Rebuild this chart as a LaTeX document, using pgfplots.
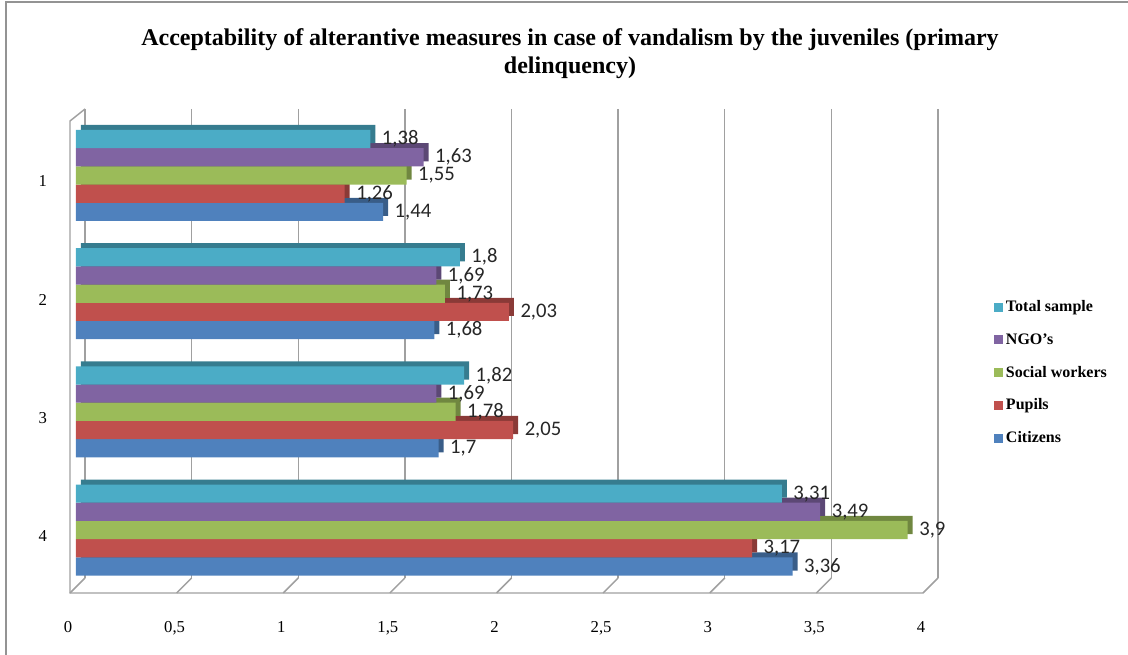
\documentclass[border=0pt]{standalone}
\usepackage{pgfplots}
\usepackage{pgfplotstable}
\pgfplotsset{compat=1.18}
\usepackage{fontspec}
\setmainfont{Liberation Serif}
\newfontfamily\datafont{Carlito}

\definecolor{cCit}{HTML}{4F81BD}
\definecolor{cPup}{HTML}{C0504D}
\definecolor{cSoc}{HTML}{9BBB59}
\definecolor{cNgo}{HTML}{8064A2}
\definecolor{cTot}{HTML}{4BACC6}
\definecolor{gridgray}{HTML}{A0A0A0}

% data: x = score, y = item
\pgfplotstableread{
x y
1.44 1
1.68 2
1.7 3
3.36 4
}\tabCit
\pgfplotstableread{
x y
1.26 1
2.03 2
2.05 3
3.17 4
}\tabPup
\pgfplotstableread{
x y
1.55 1
1.73 2
1.78 3
3.9 4
}\tabSoc
\pgfplotstableread{
x y
1.63 1
1.69 2
1.69 3
3.49 4
}\tabNgo
\pgfplotstableread{
x y
1.38 1
1.8 2
1.82 3
3.31 4
}\tabTot

% depth face of a bar: same bar, moved up and to the right, darker
\pgfplotsset{
  depth/.style={forget plot, draw=none, fill=#1!72!black, xshift=3.75pt},
  front/.style={fill=#1, draw=none},
  valuelabel/.style={forget plot, draw=none, fill=none, nodes near coords},
}

\begin{document}
\begin{tikzpicture}[x=0.75pt,y=0.75pt]
\useasboundingbox (0,0) rectangle (1128,655);
% chart frame
\draw[draw=gray!85, line width=1.5pt] (6,-10) -- (6,653) -- (1140,653);

% title
\node[align=center, font=\bfseries\fontsize{18}{21}\selectfont] at (570,601)
  {Acceptability of alterantive measures in case of vandalism by the juveniles (primary\\delinquency)};

\begin{axis}[
  at={(57pt,57.75pt)}, anchor=south west,
  scale only axis, width=639.75pt, height=351.75pt,
  xmin=0, xmax=4, ymin=0.4374, ymax=4.406, y dir=reverse,
  xtick={0,0.5,1,1.5,2,2.5,3,3.5,4},
  ytick={1,2,3,4},
  xmajorgrids,
  major grid style={draw=gridgray, line width=1.1pt, xshift=6.75pt},
  axis line style={draw=none},
  tick style={draw=none},
  clip=false,
  /pgf/number format/assume math mode=true,
  /pgf/number format/use comma,
  xticklabel style={font=\fontsize{12.5}{14}\selectfont, yshift=-29pt, xshift=-6pt},
  yticklabel style={font=\fontsize{12.5}{14}\selectfont, xshift=-14pt, yshift=-4.5pt},
  xbar, bar width=0.154,
  point meta=x,
  every node near coord/.append style={font=\datafont\fontsize{15.5}{15.5}\selectfont,
    anchor=west, xshift=8.5pt, inner sep=0pt, text=black!85},
  legend reversed,
  legend style={at={(1.0715,0.603)}, anchor=north west, draw=none, fill=none,
    font=\bfseries\fontsize{12}{14}\selectfont, row sep=10.8pt},
  legend cell align=left,
  legend image code/.code={\fill[#1] (0pt,-3.4pt) rectangle (6.8pt,3.4pt);},
]
% back wall: left edge and floor with its depth strokes
\draw[gridgray, line width=1.1pt]
  ([xshift=6.75pt]axis description cs:0,1) -- ([xshift=-4.5pt,yshift=-9pt]axis description cs:0,1)
  -- ([xshift=-4.5pt,yshift=-11.25pt]axis description cs:0,0)
  -- ([xshift=-4.5pt,yshift=-11.25pt]axis description cs:1,0)
  -- ([xshift=6.75pt]axis description cs:1,0);
\pgfplotsinvokeforeach{0,0.125,0.25,0.375,0.5,0.625,0.75,0.875}{
  \draw[gridgray, line width=1.1pt]
    ([xshift=-4.5pt,yshift=-11.25pt]axis description cs:#1,0) -- ([xshift=6.75pt]axis description cs:#1,0);
}

% bars, from the bottom series upwards
\addplot[depth=cCit, bar shift=0.2657] table {\tabCit};
\addplot[front=cCit, bar shift=0.308] table {\tabCit};
\addlegendentry{Citizens}
\addplot[depth=cPup, bar shift=0.1117] table {\tabPup};
\addplot[front=cPup, bar shift=0.154] table {\tabPup};
\addlegendentry{Pupils}
\addplot[depth=cSoc, bar shift=-0.0423] table {\tabSoc};
\addplot[front=cSoc, bar shift=0] table {\tabSoc};
\addlegendentry{Social workers}
\addplot[depth=cNgo, bar shift=-0.1963] table {\tabNgo};
\addplot[front=cNgo, bar shift=-0.154] table {\tabNgo};
\addlegendentry{NGO's}
\addplot[depth=cTot, bar shift=-0.3503] table {\tabTot};
\addplot[front=cTot, bar shift=-0.308] table {\tabTot};
\addlegendentry{Total sample}

% value labels on top of everything
\addplot[valuelabel, bar shift=0.308] table {\tabCit};
\addplot[valuelabel, bar shift=0.154] table {\tabPup};
\addplot[valuelabel, bar shift=0] table {\tabSoc};
\addplot[valuelabel, bar shift=-0.154] table {\tabNgo};
\addplot[valuelabel, bar shift=-0.308] table {\tabTot};
\end{axis}
\end{tikzpicture}
\end{document}
